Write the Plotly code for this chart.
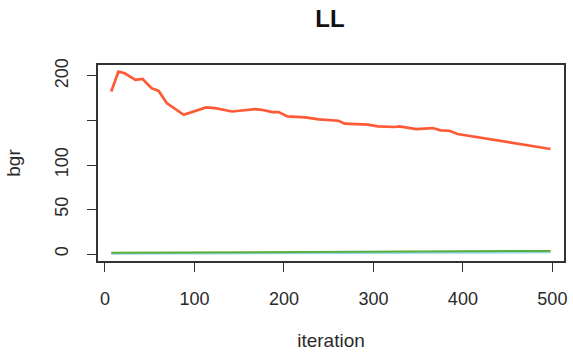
import plotly.graph_objects as go

# Data
iter_red = [7, 15, 22, 34, 42, 52, 60, 69, 88, 102, 113, 123, 142, 153, 168, 175,
            187, 194, 204, 224, 239, 261, 268, 294, 305, 324, 329, 348, 366, 375,
            385, 394, 498]
bgr_red = [182.5, 204.8, 203, 195.5, 196.6, 186.3, 183.2, 169.5, 156.4, 160.9, 164.6,
           163.9, 160.1, 161.2, 162.8, 162, 159.4, 159.4, 154.5, 153.4, 151.2, 149.7,
           146.4, 145.3, 143.4, 142.7, 143.4, 140.4, 141.5, 138.9, 138.5, 134.8, 118]
iter_green = [7, 150, 300, 400, 498]
bgr_green = [1.5, 2.2, 3.0, 3.2, 3.5]
iter_blue = [7, 250, 498]
bgr_blue = [0.4, 1.2, 2.0]

x_ticks = [0, 100, 200, 300, 400, 500]
y_ticks = [0, 50, 100, 150, 200]
y_ticktext = ["0", "50", "100", "", "200"]

FONT = "Liberation Sans, Arial, sans-serif"
TXT = "#2a2a2a"

W, H = 573, 354

fig = go.Figure()
fig.add_trace(go.Scatter(x=iter_blue, y=bgr_blue, mode="lines",
                         line=dict(color="#8fd6e8", width=2), showlegend=False))
fig.add_trace(go.Scatter(x=iter_green, y=bgr_green, mode="lines",
                         line=dict(color="#5aae3c", width=2), showlegend=False))
fig.add_trace(go.Scatter(x=iter_red, y=bgr_red, mode="lines",
                         line=dict(color="#ff5a36", width=2.7), showlegend=False))

fig.update_layout(
    width=W, height=H,
    margin=dict(l=98, r=6, t=65, b=92),
    paper_bgcolor="white", plot_bgcolor="white",
    font=dict(family=FONT, color=TXT, size=18),
    title=dict(text="<b>LL</b>", x=330 / W, xanchor="center",
               y=1 - 19 / H, yanchor="middle", font=dict(size=24, color="#111")),
)
fig.update_xaxes(
    range=[-7.8, 513.0], tickvals=x_ticks, ticks="outside", ticklen=9, tickwidth=1.3,
    tickcolor="#333", showline=True, linecolor="#333", linewidth=1.5, mirror=True,
    showgrid=False, zeroline=False, ticklabelstandoff=12,
    title=dict(text="iteration", standoff=25, font=dict(size=19)),
)
fig.update_yaxes(
    range=[-7.8, 212.3], tickvals=y_ticks, ticktext=y_ticktext, ticks="outside",
    ticklen=9, tickwidth=1.3, tickcolor="#333", tickangle=-90, showline=True,
    linecolor="#333", linewidth=1.5, mirror=True, showgrid=False, zeroline=False,
    ticklabelstandoff=12,
    title=dict(text="bgr", standoff=26, font=dict(size=19)),
)

fig.write_html(
    "out.html",
    config={"displayModeBar": False},
    post_script="document.body.style.margin='0';document.body.style.overflow='hidden';",
)
